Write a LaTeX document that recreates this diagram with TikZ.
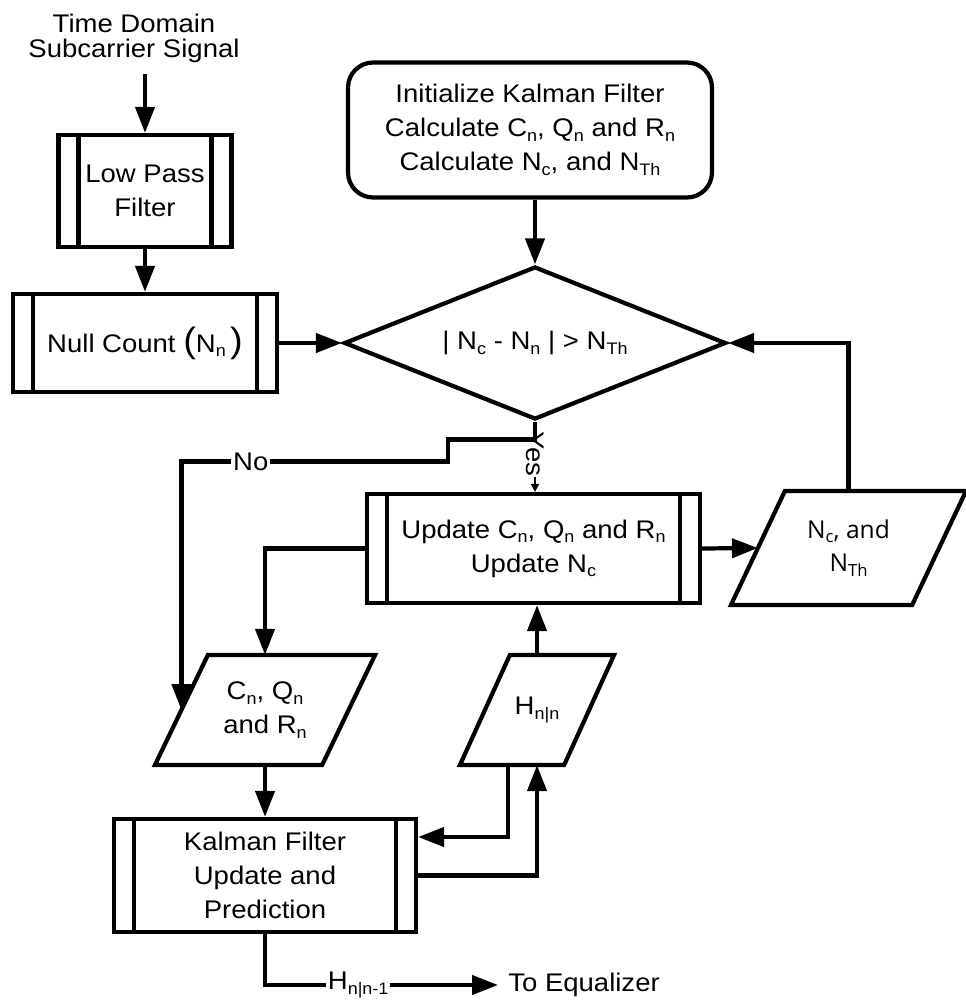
\documentclass[tikz,border=0pt]{standalone}
\usepackage{fontspec}
\setmainfont{Liberation Sans}[FakeStretch=1.08]
\newfontfamily\osans{Open Sans}
\usetikzlibrary{shapes.geometric,arrows.meta,calc}
\newcommand\fs{\fontsize{14.5}{19.3}\selectfont}
\newcommand\sbs[1]{\raisebox{-0.35ex}{\fontsize{9.5}{9.5}\selectfont #1}}
\newcommand\bigparen[1]{{\fontsize{20}{20}\selectfont #1}}
\newcommand\paraoutline[2]{\draw[bord] ([xshift=#2]#1.north west) -- ([xshift=#2]#1.north east) -- ([xshift=-#2]#1.south east) -- ([xshift=-#2]#1.south west) -- cycle;}
\tikzset{
  bord/.style={line width=2.4pt, line join=miter},
  base/.style={line width=2.4pt, font=\fs, align=center, inner sep=2pt},
  proc/.style={base, draw, rectangle, path picture={
      \draw[line width=2.4pt]
        ([xshift=0.4cm]path picture bounding box.north west) -- ([xshift=0.4cm]path picture bounding box.south west)
        ([xshift=-0.4cm]path picture bounding box.north east) -- ([xshift=-0.4cm]path picture bounding box.south east);}},
  term/.style={base, draw, rectangle, rounded corners=0.5cm},
  decision/.style={base, draw, diamond, aspect=2.5, inner sep=0pt},
  iobox/.style={base},
  lbl/.style={font=\fs, inner sep=0pt, align=center},
  arr/.style={line width=2.4pt, -{Triangle[length=0.52cm,width=0.38cm]}},
  yesarr/.style={line width=1pt, -{Triangle[length=0.16cm,width=0.16cm]}},
  cut/.style={fill=white, inner sep=1pt, font=\fs}
}
\begin{document}
\begin{tikzpicture}[x=0.02cm,y=-0.02cm]
\useasboundingbox (0,0) rectangle (966,1000);

% nodes
\node[lbl, anchor=north, font={\fontsize{14.5}{14.2}\selectfont}] (title) at (134,14) {Time Domain\\Subcarrier Signal};
\node[proc, minimum width=3.46cm, minimum height=2.24cm] (lpf) at (145,191) {Low Pass\\Filter};
\node[proc, minimum width=5.28cm, minimum height=1.96cm] (null) at (145,343) {Null Count \bigparen{(}N\sbs{n}\,\bigparen{)}};
\node[term, minimum width=7.28cm, minimum height=2.7cm] (init) at (530,130)
  {Initialize Kalman Filter\\Calculate C\sbs{n}, Q\sbs{n} and R\sbs{n}\\Calculate N\sbs{c}, and N\sbs{Th}};
\node[decision, minimum width=7.64cm, minimum height=3.06cm] (dec) at (535,343)
  {| N\sbs{c} - N\sbs{n} | > N\sbs{Th}};
\node[proc, minimum width=6.66cm, minimum height=2.18cm] (upd) at (533.5,548.5)
  {Update C\sbs{n}, Q\sbs{n} and R\sbs{n}\\Update N\sbs{c}};
\node[iobox, minimum width=3.54cm, minimum height=2.2cm, font={\osans\fontsize{14}{19}\selectfont}] (nth) at (848.5,548) {N\sbs{c}, and\\N\sbs{Th}};
\paraoutline{nth}{0.54cm}
\node[iobox, minimum width=3.26cm, minimum height=2.12cm] (cn) at (265,710) {C\sbs{n}, Q\sbs{n}\\and R\sbs{n}};
\paraoutline{cn}{0.53cm}
\node[iobox, minimum width=2cm, minimum height=2.12cm] (hnn) at (537,710) {H\sbs{n|n}};
\paraoutline{hnn}{0.5cm}
\node[proc, minimum width=6.04cm, minimum height=2.26cm] (kal) at (265,875.5)
  {Kalman Filter\\Update and\\Prediction};
\node[lbl, anchor=west, inner sep=0.2cm] (eq) at (498,985) {To Equalizer};

% connectors
\draw[arr] ([yshift=-0.22cm]title.south -| lpf.north) -- (lpf.north);
\draw[arr] (lpf.south) -- (null.north);
\draw[arr] (null.east) -- (dec.west);
\draw[arr] (init.south -| dec.north) -- (dec.north);

\coordinate (j) at ($(dec.south)+(0,18)$);
\coordinate (n1) at ($(j)+(-87,0)$);
\coordinate (n2) at ($(n1)+(0,22)$);
\draw[yesarr] (j) -- node[pos=0.27, rotate=-90, fill=white, inner sep=0.5pt, font=\fs]{Yes} (j |- upd.north);
\draw[arr] (dec.south) -- (j) -- (n1) -- (n2) -- node[pos=0.74, cut]{No} (n2 -| cn.west) -- (cn.west);

\draw[arr] (upd.west) -| (cn.north);
\draw[arr] (upd.east) -- (nth.west);
\draw[arr] (nth.north) |- (dec.east);
\draw[arr] (cn.south) -- (kal.north);
\draw[arr] (hnn.north) -- (hnn.north |- upd.south);
\draw[arr] ([xshift=-0.58cm]hnn.south) |- ([yshift=0.77cm]kal.east);
\draw[arr] (kal.east) -| (hnn.south);
\draw[arr] (kal.south) |- node[pos=0.7, cut]{H\sbs{n|n-1}} (eq.west);
\end{tikzpicture}
\end{document}
